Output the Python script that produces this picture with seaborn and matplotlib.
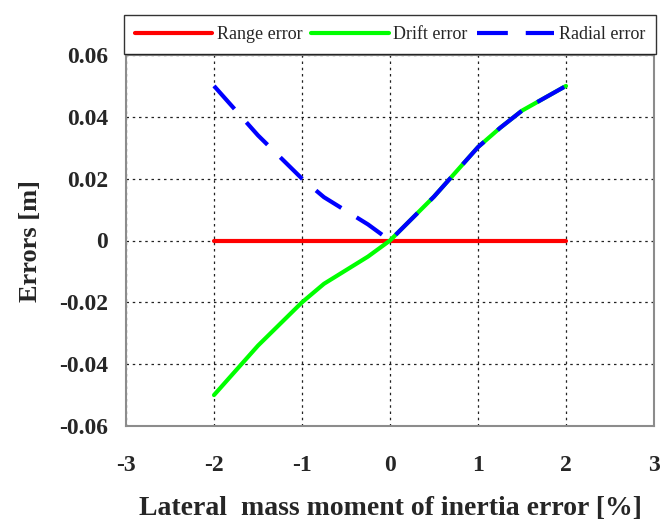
import matplotlib
matplotlib.use("Agg")
import matplotlib.pyplot as plt
import seaborn as sns
import pandas as pd

# Data
x_pct = [-2.0, -1.5, -1.0, -0.75, -0.25, 0.0, 0.5, 1.0, 1.25, 1.5, 2.0]
range_err = [0.0, 0.0, 0.0, 0.0, 0.0, 0.0, 0.0, 0.0, 0.0, 0.0, 0.0]
drift_err = [-0.050, -0.034, -0.020, -0.014, -0.0052, 0.0, 0.0142, 0.0302, 0.0364, 0.042, 0.050]
radial_err = [0.050, 0.034, 0.020, 0.014, 0.0052, 0.0, 0.0142, 0.0302, 0.0364, 0.042, 0.050]

x_ticks = [-3, -2, -1, 0, 1, 2, 3]
x_tick_labels = ["-3", "-2", "-1", "0", "1", "2", "3"]
y_ticks = [-0.06, -0.04, -0.02, 0.0, 0.02, 0.04, 0.06]
y_tick_labels = ["-0.06", "-0.04", "-0.02", "0", "0.02", "0.04", "0.06"]

series_names = ["Range error", "Drift error", "Radial error"]
series_colors = ["#ff0000", "#00ff00", "#0000ff"]

sns.set_style("white")
plt.rcParams["font.family"] = ["Liberation Serif", "DejaVu Serif"]

df = pd.DataFrame({"x": x_pct, "Range error": range_err,
                   "Drift error": drift_err, "Radial error": radial_err})

W, H = 670, 520
fig = plt.figure(figsize=(W / 100, H / 100), dpi=100)
ax = fig.add_axes([126 / W, 1 - 426 / H, 528 / W, 371 / H])

for name, col in zip(series_names, series_colors):
    ls = (0, (7.4, 4.3)) if name == "Radial error" else "-"
    sns.lineplot(data=df, x="x", y=name, ax=ax, color=col, linewidth=3.0,
                 linestyle=ls, label=name, sort=False, zorder=3)

ax.set_xlim(-3, 3)
ax.set_ylim(-0.06, 0.06)
ax.set_xticks(x_ticks)
ax.set_xticklabels(x_tick_labels)
ax.set_yticks(y_ticks)
ax.set_yticklabels(y_tick_labels)
for lab in ax.get_xticklabels() + ax.get_yticklabels():
    lab.set_fontweight("bold")
    lab.set_fontsize(17)
ax.tick_params(axis="both", length=0)
ax.tick_params(axis="y", pad=13)
ax.tick_params(axis="x", pad=21)

ax.grid(True, color="#222222", linestyle=(0, (2, 3)), linewidth=0.9, zorder=1)
ax.set_axisbelow(True)
for sp in ax.spines.values():
    sp.set_color("#8c8c8c")
    sp.set_linewidth(1.5)

ax.set_xlabel("Lateral  mass moment of inertia error [%]", fontsize=20,
              fontweight="bold", labelpad=14)
ax.set_ylabel("Errors [m]", fontsize=19, fontweight="bold", labelpad=12)

leg = ax.legend(loc="lower left", bbox_to_anchor=(-0.004, 1.003, 1.0076, 0.108),
                mode="expand", ncol=3, frameon=True, fancybox=False,
                fontsize=13, handlelength=4.3, handletextpad=0.25,
                borderaxespad=0, borderpad=0.6, columnspacing=0.6)
leg.get_frame().set_edgecolor("black")
leg.get_frame().set_linewidth(1.0)

fig.savefig("out.png", dpi=100)
